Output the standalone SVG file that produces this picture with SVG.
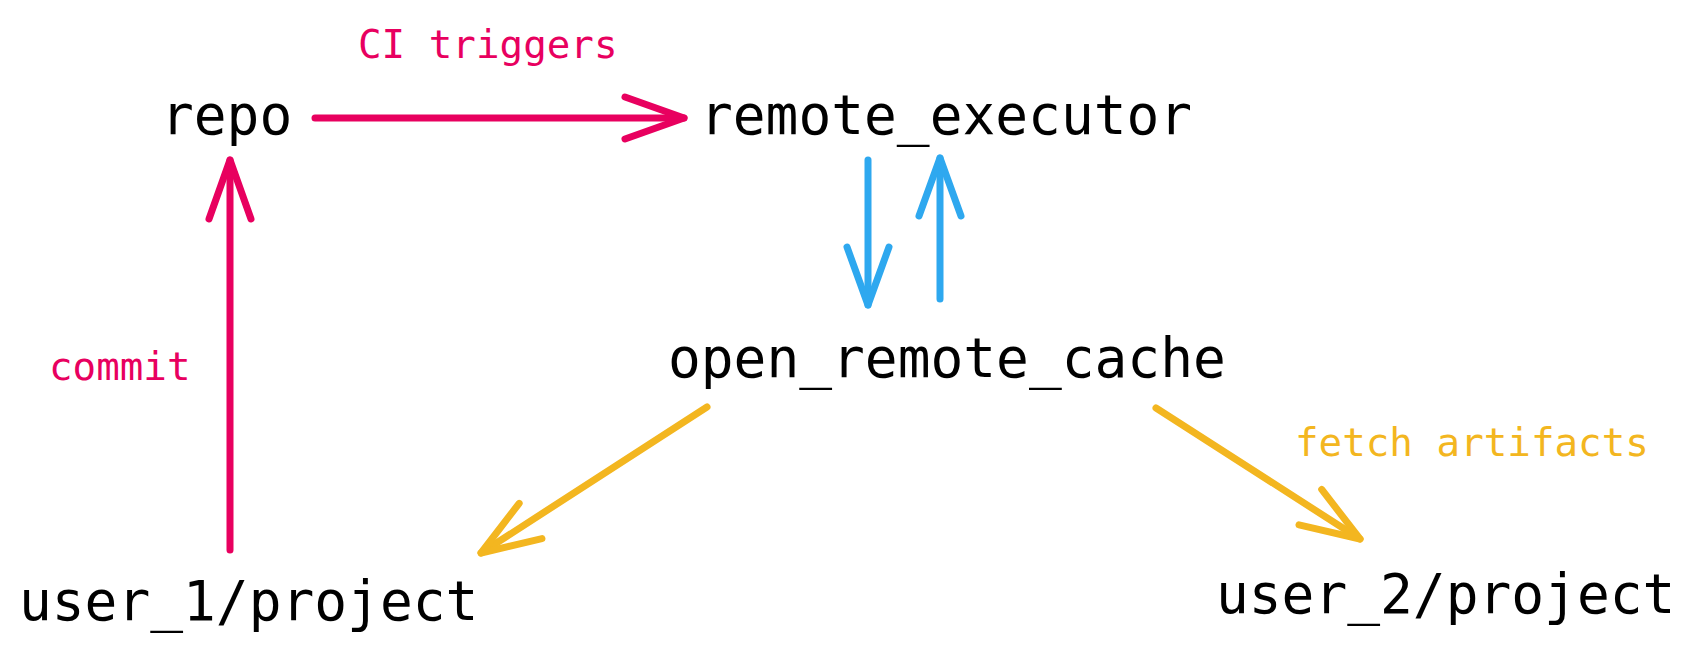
<svg xmlns="http://www.w3.org/2000/svg" width="1695" height="654" viewBox="0 0 1695 654">
<style>
.node{font-family:"DejaVu Sans Mono",monospace;font-size:54.5px;fill:#000}
.lbl{font-family:"DejaVu Sans Mono",monospace;font-size:39.2px}
.c{fill:none;stroke-width:7;stroke-linecap:round;stroke-linejoin:round}
.pink{stroke:#e8005f}
.blue{stroke:#2ea8ef}
.yel{stroke:#f3b620}
</style>
<defs>
<marker id="hp" markerUnits="userSpaceOnUse" orient="auto" markerWidth="80" markerHeight="60" viewBox="-70 -30 80 60" refX="0" refY="0" overflow="visible"><path d="M-59,-21 L0,0 L-59,21" fill="none" stroke="#e8005f" stroke-width="7" stroke-linecap="round" stroke-linejoin="round"/></marker>
<marker id="hb" markerUnits="userSpaceOnUse" orient="auto" markerWidth="80" markerHeight="60" viewBox="-70 -30 80 60" refX="0" refY="0" overflow="visible"><path d="M-58,-21 L0,0 L-58,21" fill="none" stroke="#2ea8ef" stroke-width="7" stroke-linecap="round" stroke-linejoin="round"/></marker>
<marker id="hy" markerUnits="userSpaceOnUse" orient="auto" markerWidth="80" markerHeight="60" viewBox="-70 -30 80 60" refX="0" refY="0" overflow="visible"><path d="M-59,-21 L0,0 L-59,21" fill="none" stroke="#f3b620" stroke-width="7" stroke-linecap="round" stroke-linejoin="round"/></marker>
</defs>
<rect width="1695" height="654" fill="#fff"/>
<g id="connectors">
<line class="c pink" x1="315" y1="118" x2="684" y2="118" marker-end="url(#hp)"/>
<line class="c pink" x1="230" y1="550" x2="230" y2="160" marker-end="url(#hp)"/>
<line class="c blue" x1="868" y1="160" x2="868" y2="305" marker-end="url(#hb)"/>
<line class="c blue" x1="940" y1="299" x2="940" y2="158" marker-end="url(#hb)"/>
<line class="c yel" x1="707" y1="407" x2="481" y2="553" marker-end="url(#hy)"/>
<line class="c yel" x1="1156" y1="408" x2="1360" y2="539" marker-end="url(#hy)"/>
</g>
<g id="labels">
<text class="lbl" x="358" y="58" fill="#e8005f">CI triggers</text>
<text class="lbl" x="49" y="380" fill="#e8005f">commit</text>
<text class="lbl" x="1295" y="456" fill="#f3b620">fetch artifacts</text>
</g>
<g id="repo"><text class="node" x="161" y="134">repo</text></g>
<g id="remote_executor"><text class="node" x="700" y="134">remote_executor</text></g>
<g id="open_remote_cache"><text class="node" x="668" y="377">open_remote_cache</text></g>
<g id="user_1_project"><text class="node" x="19" y="620">user_1/project</text></g>
<g id="user_2_project"><text class="node" x="1216" y="613">user_2/project</text></g>
</svg>
